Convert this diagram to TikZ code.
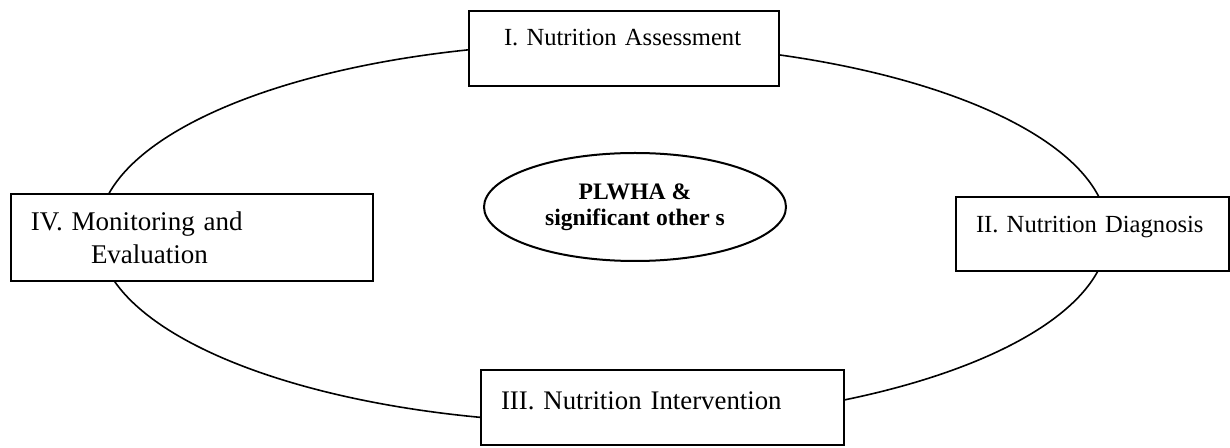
\documentclass[tikz,border=0pt]{standalone}
\usepackage{fontspec}
\setmainfont{Liberation Serif}
\usetikzlibrary{shapes.geometric,positioning}

\begin{document}
\begin{tikzpicture}[
    x=0.5pt, y=-0.5pt,
    stage/.style={draw, fill=white, line width=1pt, anchor=north west,
      inner ysep=0pt, inner xsep=10pt, align=left},
    ring/.style={draw, ellipse, line width=0.8pt, inner sep=0pt,
      minimum width=505pt, minimum height=190pt},
    core/.style={draw, ellipse, fill=white, line width=1pt, inner sep=0pt,
      minimum width=151pt, minimum height=54pt, align=center,
      font=\fontsize{11.8}{13}\selectfont\bfseries}
  ]
  \useasboundingbox (0,0) rectangle (1230,448);
  \node[ring] (cycle) at (603,233) {};
  \node[stage, inner xsep=17.5pt, text width=120pt, text height=17.5pt, text depth=20pt,
    font=\fontsize{12.3}{14}\selectfont] (assess) at (468,10) {I. Nutrition Assessment};
  \node[stage, text width=116.5pt, text height=18pt, text depth=19pt,
    font=\fontsize{12.3}{14}\selectfont] (diag) at (955,196) {II. Nutrition Diagnosis};
  \node[stage, text width=161.5pt, text height=19.5pt, text depth=18pt,
    font=\fontsize{13.4}{16}\selectfont] (interv) at (480,369) {III. Nutrition Intervention};
  \node[stage, text width=161pt, minimum height=43.5pt,
    font=\fontsize{13.5}{16.5}\selectfont] (monitor) at (10,193)
    {IV. Monitoring and\\\hspace*{30pt}Evaluation};
  \node[core] (plwha) at (635,207) {PLWHA \&\\significant other s};
\end{tikzpicture}
\end{document}
